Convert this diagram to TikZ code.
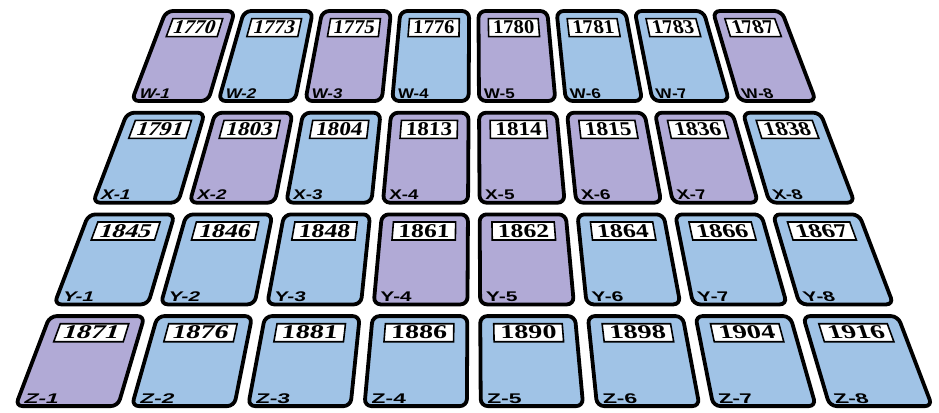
\documentclass[tikz,border=0pt]{standalone}
\usepackage{fontspec}
\setmainfont{Liberation Serif}
\setsansfont{Liberation Sans}
\definecolor{cP}{RGB}{177,170,214}
\definecolor{cB}{RGB}{160,195,230}
\newcommand\cpt[3]{\coordinate (#1) at ({473.8+(\uo+(#2))*((\yc+(#3)+797)/1205)},{-(\yc+(#3))});}
\tikzset{
  card/.style={line width=3.8pt, rounded corners=7pt, draw=black},
  numbox/.style={line width=1.6pt, draw=black, fill=white},
  numtext/.style={transform shape, font=\fontsize{19.5}{19.5}\selectfont\bfseries, xscale=1.5, inner sep=0pt},
  labtext/.style={transform shape, font=\fontsize{14}{14}\selectfont\sffamily\bfseries, xscale=1.7, inner sep=0pt, anchor=base west}
}
\begin{document}
\begin{tikzpicture}[x=1pt,y=1pt]
\useasboundingbox (0,0) rectangle (939,-412);
\foreach \r/\L/\lst in {
  0/W/{1770/P,1773/B,1775/P,1776/B,1780/P,1781/B,1783/B,1787/P},
  1/X/{1791/B,1803/P,1804/B,1813/P,1814/P,1815/P,1836/P,1838/B},
  2/Y/{1845/B,1846/B,1848/B,1861/P,1862/P,1864/B,1866/B,1867/B},
  3/Z/{1871/P,1876/B,1881/B,1886/B,1890/B,1898/B,1904/B,1916/B}}{
  \foreach \n/\c [count=\i from 0] in \lst {
    \pgfmathsetmacro\uo{(\i-3.5)*116.5}
    \pgfmathsetmacro\yc{56+101.7*\r}
    \pgfmathsetmacro\fc{(\yc+797)/1205}
    \pgfmathsetmacro\sl{-\uo/1205}
    \pgfmathsetmacro\xc{473.8+\uo*\fc}
    \pgfmathtruncatemacro\j{\i+1}
    \cpt{TL}{-51.3}{-45}
    \cpt{TR}{51.3}{-45}
    \cpt{BR}{51.3}{45}
    \cpt{BL}{-51.3}{45}
    \draw[card, fill=c\c] (TL) -- (TR) -- (BR) -- (BL) -- cycle;
    \cpt{NTL}{-36.8}{-37.4}
    \cpt{NTR}{36.8}{-37.4}
    \cpt{NBR}{36.8}{-19.4}
    \cpt{NBL}{-36.8}{-19.4}
    \draw[numbox] (NTL) -- (NTR) -- (NBR) -- (NBL) -- cycle;
    \begin{scope}[cm={\fc,0,\sl,1,(\xc,-\yc)}]
      \node[numtext] (n\L\j) at (0,28.5) {\n};
      \node[labtext] (l\L\j) at (-46.5,-42) {\L-\j};
    \end{scope}
  }
}
\end{tikzpicture}
\end{document}
